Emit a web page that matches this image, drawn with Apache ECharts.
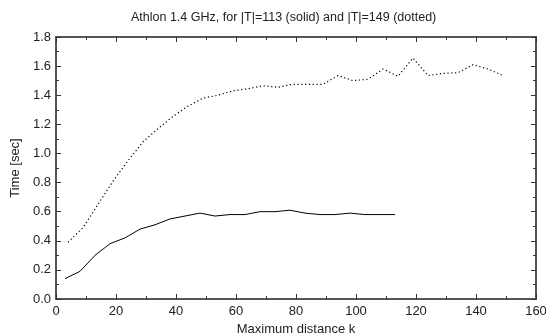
<!DOCTYPE html>
<html><head><meta charset="utf-8">
<script src="https://cdn.jsdelivr.net/npm/echarts@6/dist/echarts.min.js"></script>
<style>html,body{margin:0;padding:0;background:#fff}#c{width:546px;height:334px}</style>
</head><body><div id="c"></div>
<script>
const kSolid = [3,8,13,18,23,28,33,38,43,48,53,58,63,68,73,78,83,88,93,98,103,108,113];
const tSolid = [0.14,0.19,0.30,0.38,0.42,0.48,0.51,0.55,0.57,0.59,0.57,0.58,0.58,0.60,0.60,0.61,0.59,0.58,0.58,0.59,0.58,0.58,0.58];
const kDotted = [4,9,14,19,24,29,34,39,44,49,54,59,64,69,74,79,84,89,94,99,104,109,114,119,124,129,134,139,144,149];
const tDotted = [0.39,0.49,0.65,0.81,0.95,1.08,1.17,1.255,1.325,1.38,1.40,1.43,1.445,1.465,1.455,1.475,1.475,1.475,1.535,1.50,1.51,1.58,1.53,1.655,1.535,1.55,1.555,1.61,1.58,1.535];
const titleText = 'Athlon 1.4 GHz, for |T|=113 (solid) and |T|=149 (dotted)';
const xName = 'Maximum distance k';
const yName = 'Time [sec]';

const FONT = 'Liberation Sans, Arial, sans-serif';
const axisCol = '#555';
function mkX(pos, show) {
  return {
    type: 'value', position: pos, min: 0, max: 160, interval: 20,
    name: show ? xName : '', nameLocation: 'middle', nameGap: 20,
    nameTextStyle: {fontFamily: FONT, fontSize: 13, color: '#222'},
    axisLine: {show: true, onZero: false, lineStyle: {color: axisCol, width: 2}},
    axisTick: {show: true, inside: true, length: 5, lineStyle: {color: '#333'}},
    minorTick: {show: true, splitNumber: 2, length: 3, lineStyle: {color: '#333'}},
    axisLabel: {show: show, fontFamily: FONT, fontSize: 13, color: '#222', margin: 6},
    splitLine: {show: false}
  };
}
function mkY(pos, show) {
  return {
    type: 'value', position: pos, min: 0, max: 1.8, interval: 0.2,
    name: show ? yName : '', nameLocation: 'middle', nameGap: 31,
    nameTextStyle: {fontFamily: FONT, fontSize: 13, color: '#222'},
    axisLine: {show: true, onZero: false, lineStyle: {color: axisCol, width: 2}},
    axisTick: {show: true, inside: true, length: 5, lineStyle: {color: '#333'}},
    minorTick: {show: true, splitNumber: 2, length: 3, lineStyle: {color: '#333'}},
    axisLabel: {show: show, fontFamily: FONT, fontSize: 13, color: '#222', margin: 5,
      formatter: v => v.toFixed(1)},
    splitLine: {show: false}
  };
}
const chart = echarts.init(document.getElementById('c'), null, {renderer: 'canvas'});
chart.setOption({
  animation: false,
  title: {text: titleText, left: 126, top: 6,
    textStyle: {fontFamily: FONT, fontSize: 12.5, fontWeight: 'normal', color: '#222'}},
  grid: {left: 56, right: 10, top: 37, bottom: 35, containLabel: false, outerBoundsMode: 'none'},
  xAxis: [mkX('bottom', true), mkX('top', false)],
  yAxis: [mkY('left', true), mkY('right', false)],
  series: [
    {type: 'line', xAxisIndex: 0, yAxisIndex: 0, showSymbol: false,
     data: kSolid.map((k, i) => [k, tSolid[i]]),
     lineStyle: {color: '#000', width: 1}},
    {type: 'line', xAxisIndex: 0, yAxisIndex: 0, showSymbol: false,
     data: kDotted.map((k, i) => [k, tDotted[i]]),
     lineStyle: {color: '#000', width: 1.2, type: [1.2, 2.6]}}
  ]
});
</script></body></html>
